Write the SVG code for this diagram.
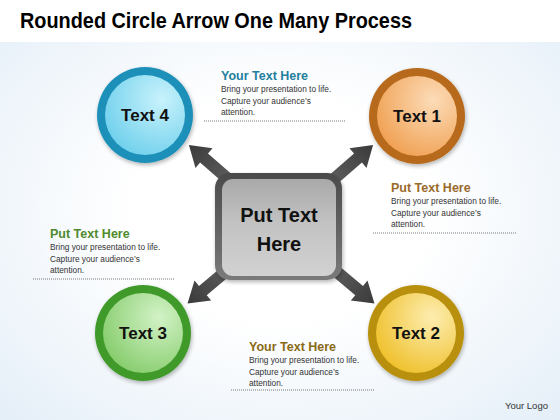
<svg xmlns="http://www.w3.org/2000/svg" width="560" height="420" viewBox="0 0 560 420">
<defs>
<radialGradient id="bg" cx="0.5" cy="0.5" r="0.75">
<stop offset="0.35" stop-color="#ffffff"/>
<stop offset="1" stop-color="#e2edf7"/>
</radialGradient>
<linearGradient id="arrowG" x1="0" y1="0" x2="1" y2="0">
<stop offset="0" stop-color="#8a8a8a"/>
<stop offset="1" stop-color="#3a3a3a"/>
</linearGradient>
<linearGradient id="sqOuter" x1="0" y1="0" x2="0" y2="1">
<stop offset="0" stop-color="#4a4a4a"/>
<stop offset="1" stop-color="#7a7a7a"/>
</linearGradient>
<linearGradient id="sqInner" x1="0" y1="0" x2="0" y2="1">
<stop offset="0" stop-color="#a9a9a9"/>
<stop offset="0.45" stop-color="#c2c2c2"/>
<stop offset="1" stop-color="#d2d2d2"/>
</linearGradient>
<radialGradient id="blueIn" cx="0.7" cy="0.3" r="0.8">
<stop offset="0" stop-color="#c8f2fc"/>
<stop offset="1" stop-color="#6fd0ec"/>
</radialGradient>
<radialGradient id="orangeIn" cx="0.7" cy="0.3" r="0.8">
<stop offset="0" stop-color="#fcdcb8"/>
<stop offset="1" stop-color="#f0a052"/>
</radialGradient>
<radialGradient id="greenIn" cx="0.7" cy="0.3" r="0.8">
<stop offset="0" stop-color="#d2f2c6"/>
<stop offset="1" stop-color="#86cc6c"/>
</radialGradient>
<radialGradient id="yellowIn" cx="0.7" cy="0.3" r="0.8">
<stop offset="0" stop-color="#fdedb0"/>
<stop offset="1" stop-color="#efc02a"/>
</radialGradient>
<filter id="sh" x="-20%" y="-20%" width="140%" height="140%">
<feGaussianBlur in="SourceAlpha" stdDeviation="2"/>
<feOffset dx="1" dy="2" result="b"/>
<feComponentTransfer><feFuncA type="linear" slope="0.3"/></feComponentTransfer>
<feMerge><feMergeNode/><feMergeNode in="SourceGraphic"/></feMerge>
</filter>
</defs>
<style>
.title{font-family:"Liberation Sans",Arial,sans-serif;font-weight:bold;font-size:22px;fill:#000}
.lbl{font-family:"Liberation Sans",Arial,sans-serif;font-weight:bold;font-size:17px;fill:#111;text-anchor:middle}
.ctr{font-family:"Liberation Sans",Arial,sans-serif;font-weight:bold;font-size:20px;fill:#111;text-anchor:middle}
.head{font-family:"Liberation Sans",Arial,sans-serif;font-weight:bold;font-size:12.5px}
.body{font-family:"Liberation Sans",Arial,sans-serif;font-size:8.3px;fill:#333}
.dot{stroke:#555;stroke-width:0.8;stroke-dasharray:1 1;fill:none}
.logo{font-family:"Liberation Sans",Arial,sans-serif;font-size:9.5px;fill:#333}
</style>
<rect x="0" y="0" width="560" height="420" fill="url(#bg)"/>
<rect x="0" y="0" width="560" height="42" fill="#ffffff"/>
<text class="title" x="20" y="28" textLength="392" lengthAdjust="spacingAndGlyphs">Rounded Circle Arrow One Many Process</text>

<g id="connectors">
<g transform="translate(281,225) rotate(-139)"><path d="M0,-6 L102,-6 L102,-13 L122,0 L102,13 L102,6 L0,6 Z" fill="url(#arrowG)"/></g>
<g transform="translate(281,225) rotate(-41)"><path d="M0,-6 L102,-6 L102,-13 L122,0 L102,13 L102,6 L0,6 Z" fill="url(#arrowG)"/></g>
<g transform="translate(281,225) rotate(140)"><path d="M0,-6 L102,-6 L102,-13 L122,0 L102,13 L102,6 L0,6 Z" fill="url(#arrowG)"/></g>
<g transform="translate(281,225) rotate(40)"><path d="M0,-6 L102,-6 L102,-13 L122,0 L102,13 L102,6 L0,6 Z" fill="url(#arrowG)"/></g>
</g>

<g id="center">
<rect x="215" y="173" width="127" height="107" rx="15" fill="url(#sqOuter)" filter="url(#sh)"/>
<rect x="222" y="179" width="114" height="97" rx="11" fill="url(#sqInner)"/>
<text class="ctr" x="279" y="222">Put Text</text>
<text class="ctr" x="279" y="251">Here</text>
</g>

<g id="text4">
<circle cx="145" cy="115" r="48" fill="#1e90b8" filter="url(#sh)"/>
<circle cx="145" cy="115" r="40" fill="url(#blueIn)"/>
<text class="lbl" x="145" y="121">Text 4</text>
</g>
<g id="text1">
<circle cx="417" cy="116" r="48" fill="#b86a1c" filter="url(#sh)"/>
<circle cx="417" cy="116" r="40" fill="url(#orangeIn)"/>
<text class="lbl" x="417" y="122">Text 1</text>
</g>
<g id="text3">
<circle cx="143" cy="333" r="48" fill="#3f9a2c" filter="url(#sh)"/>
<circle cx="143" cy="333" r="40" fill="url(#greenIn)"/>
<text class="lbl" x="143" y="339">Text 3</text>
</g>
<g id="text2">
<circle cx="416" cy="333" r="48" fill="#b8900c" filter="url(#sh)"/>
<circle cx="416" cy="333" r="40" fill="url(#yellowIn)"/>
<text class="lbl" x="416" y="339">Text 2</text>
</g>

<g id="note-top">
<text class="head" x="221" y="80" fill="#1f7f9e">Your Text Here</text>
<text class="body" x="221" y="92">Bring your presentation to life.</text>
<text class="body" x="221" y="104">Capture your audience’s</text>
<text class="body" x="221" y="115">attention.</text>
<line class="dot" x1="204" y1="121" x2="346" y2="121"/>
</g>
<g id="note-right">
<text class="head" x="391" y="192" fill="#9a6a2c">Put Text Here</text>
<text class="body" x="391" y="204">Bring your presentation to life.</text>
<text class="body" x="391" y="216">Capture your audience’s</text>
<text class="body" x="391" y="227">attention.</text>
<line class="dot" x1="373" y1="233" x2="516" y2="233"/>
</g>
<g id="note-left">
<text class="head" x="50" y="238" fill="#4f8a2e">Put Text Here</text>
<text class="body" x="50" y="250">Bring your presentation to life.</text>
<text class="body" x="50" y="262">Capture your audience’s</text>
<text class="body" x="50" y="273">attention.</text>
<line class="dot" x1="33" y1="279" x2="174" y2="279"/>
</g>
<g id="note-bottom">
<text class="head" x="249" y="351" fill="#8a6a18">Your Text Here</text>
<text class="body" x="249" y="363">Bring your presentation to life.</text>
<text class="body" x="249" y="375">Capture your audience’s</text>
<text class="body" x="249" y="386">attention.</text>
<line class="dot" x1="231" y1="390" x2="374" y2="390"/>
</g>
<text class="logo" x="505" y="409">Your Logo</text>
</svg>
